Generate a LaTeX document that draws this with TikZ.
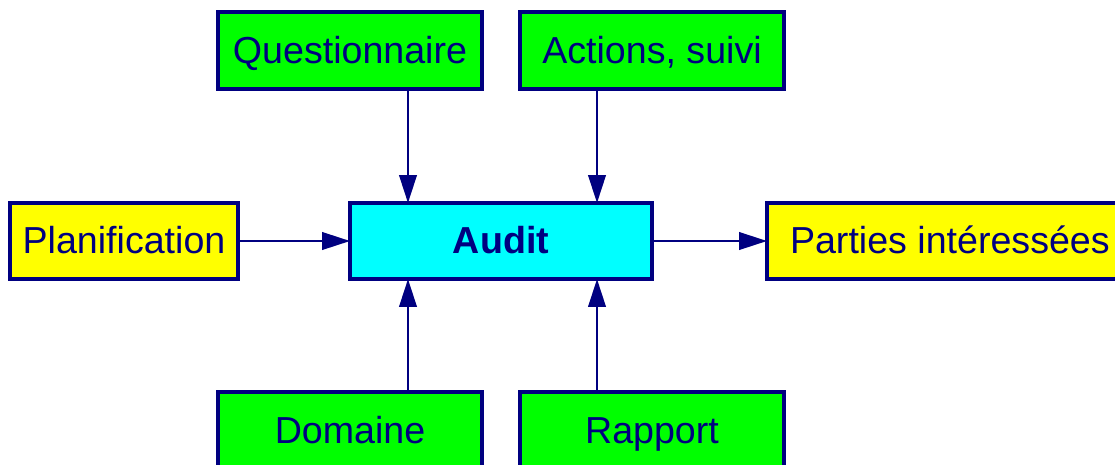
\documentclass[tikz,border=0pt]{standalone}
\usepackage{fontspec}
\setmainfont{Liberation Sans}
\usetikzlibrary{arrows.meta}
\definecolor{navy}{HTML}{000080}
\definecolor{vert}{HTML}{00FF00}
\definecolor{jaune}{HTML}{FFFF00}
\definecolor{bleuclair}{HTML}{00FFFF}

\begin{document}
\begin{tikzpicture}[x=0.02cm, y=-0.02cm,
  every node/.style={draw=navy, line width=2pt, text=navy, inner sep=0pt, outer sep=0pt,
    text height=0.62cm, text depth=0.11cm, font=\fontsize{21.4}{26}\selectfont},
  boite/.style={minimum width=5.28cm, minimum height=1.54cm, fill=vert},
  link/.style={draw=navy, line width=1.4pt, -{Triangle[length=5.6mm,width=3.5mm]}}]
\useasboundingbox (0,0) rectangle (1115,464);

\node[boite] (quest) at (350,50.5) {Questionnaire};
\node[boite] (actions) at (652,50.5) {Actions, suivi};
\node[fill=jaune, minimum width=4.56cm, minimum height=1.52cm] (plan) at (124,241) {Planification};
\node[fill=bleuclair, minimum width=6.04cm, minimum height=1.52cm] (audit) at (501,241) {\textbf{Audit}};
\node[fill=jaune, minimum width=7.16cm, minimum height=1.52cm, inner xsep=0.46cm, anchor=west] (parties) at (767,241) {Parties intéressées};
\node[boite] (domaine) at (350,430.5) {Domaine};
\node[boite] (rapport) at (652,430.5) {Rapport};

\draw[link] ([xshift=1.16cm]quest.south) -- ([xshift=1.16cm]quest.south |- audit.north);
\draw[link] ([xshift=-1.1cm]actions.south) -- ([xshift=-1.1cm]actions.south |- audit.north);
\draw[link] ([xshift=1.16cm]domaine.north) -- ([xshift=1.16cm]domaine.north |- audit.south);
\draw[link] ([xshift=-1.1cm]rapport.north) -- ([xshift=-1.1cm]rapport.north |- audit.south);
\draw[link] (plan.east) -- (audit.west);
\draw[link] (audit.east) -- (parties.west);
\end{tikzpicture}
\end{document}
